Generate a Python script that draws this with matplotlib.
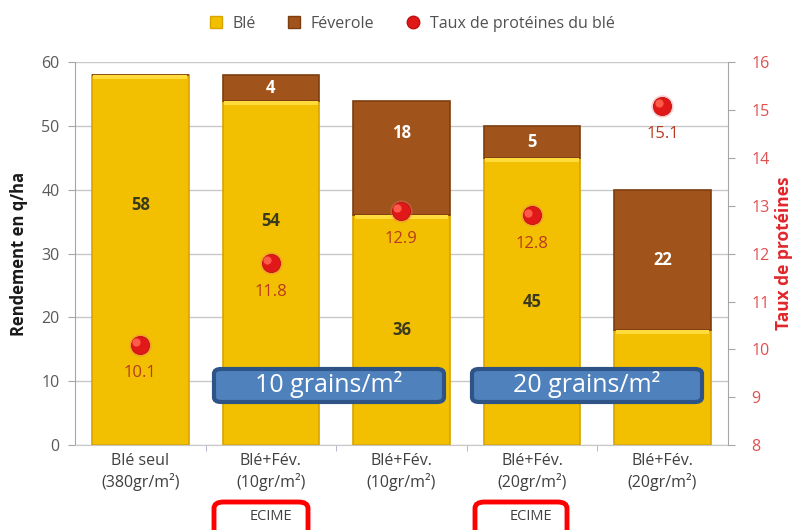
import matplotlib.pyplot as plt
from matplotlib.patches import FancyBboxPatch
from matplotlib.lines import Line2D

categories = ["Blé seul\n(380gr/m²)", "Blé+Fév.\n(10gr/m²)", "Blé+Fév.\n(10gr/m²)",
              "Blé+Fév.\n(20gr/m²)", "Blé+Fév.\n(20gr/m²)"]
ble = [58, 54, 36, 45, 18]
feverole = [0, 4, 18, 5, 22]
proteines = [10.1, 11.8, 12.9, 12.8, 15.1]

plt.rcParams['font.family'] = ['Open Sans', 'DejaVu Sans']

fig = plt.figure(figsize=(7.98, 5.30), dpi=100)
ax = fig.add_axes([0.094, 0.1604, 0.818, 0.7217])
ax2 = ax.twinx()

x = list(range(len(categories)))
w = 0.74
c_ble = "#F2C000"
c_fev = "#A0531A"
ax.bar(x, ble, width=w, color=c_ble, edgecolor="#D8A400", linewidth=1.2, zorder=2)
# light highlight band at the top of each wheat segment
ax.bar(x, [0.6] * len(x), bottom=[b - 0.6 for b in ble], width=w * 0.97, color="#FFDC3C",
       linewidth=0, zorder=3)
ax.bar(x, feverole, bottom=ble, width=w, color=c_fev, edgecolor="#7E3E10", linewidth=1.2, zorder=2)

ax.set_ylim(0, 60)
ax.set_xlim(-0.5, len(categories) - 0.5)
ax.set_yticks(range(0, 61, 10))
ax.grid(axis='y', color="#C8C8C8", linewidth=1.0, zorder=0)
ax.set_axisbelow(True)
ax.set_xticks(x)
ax.set_xticklabels(categories, fontsize=11.5, color="#404040", linespacing=1.25)
ax.set_xticks([i + 0.5 for i in x[:-1]], minor=True)
ax.tick_params(axis='x', which='major', length=0, pad=6)
ax.tick_params(axis='x', which='minor', length=4, color="#B0A8C8")
ax.tick_params(axis='y', labelsize=11.5, colors="#595959", length=5, pad=6)
ax.tick_params(axis='y', color="#A6A6A6")
ax.set_ylabel("Rendement en q/ha", fontsize=12, fontweight='bold', color="#1a1a1a", labelpad=10)
for s in ['top', 'right']:
    ax.spines[s].set_visible(False)
ax.spines['left'].set_color("#A6A6A6")
ax.spines['bottom'].set_color("#C8C8C8")

# label vertical placement (fraction of segment); some labels moved to avoid markers
ble_frac = [0.65, 0.65, 0.5, 0.5, 0.5]
fev_frac = [0.5, 0.5, 0.72, 0.5, 0.5]
for i in x:
    ax.text(i, ble[i] * ble_frac[i], str(ble[i]), ha='center', va='center', fontsize=12,
            fontweight='bold', color="#3A3A1E", zorder=5)
    if feverole[i] > 0:
        ax.text(i, ble[i] + feverole[i] * fev_frac[i], str(feverole[i]), ha='center', va='center',
                fontsize=12, fontweight='bold', color="white", zorder=5)

ax2.set_ylim(8, 16)
ax2.set_yticks(range(8, 17))
ax2.tick_params(axis='y', labelsize=11.5, labelcolor="#E05050", color="#A6A6A6", length=5, pad=12)
for s in ['top', 'left', 'bottom']:
    ax2.spines[s].set_visible(False)
ax2.spines['right'].set_color("#A6A6A6")
ax2.set_ylabel("Taux de protéines", fontsize=12.5, fontweight='bold', color="#E0262B", labelpad=4)
ax2.scatter(x, proteines, s=260, color="#F07070", alpha=0.35, linewidth=0, zorder=5)
ax2.scatter(x, proteines, s=170, color="#E01818", edgecolor="#C01010", linewidth=0.6, zorder=6)
ax2.scatter([i - 0.03 for i in x], [p + 0.06 for p in proteines], s=35, color="#FF5A4A",
            linewidth=0, zorder=7)
for i in x:
    ax2.text(i, proteines[i] - 0.6, f"{proteines[i]}", ha='center', va='center',
             fontsize=12, color="#B83A20", zorder=8)

# legend
handles = [Line2D([0], [0], marker='s', linestyle='', markersize=8, markerfacecolor=c_ble, markeredgecolor="#D8A400"),
           Line2D([0], [0], marker='s', linestyle='', markersize=8, markerfacecolor=c_fev, markeredgecolor="#7E3E10"),
           Line2D([0], [0], marker='o', linestyle='', markersize=9, markerfacecolor="#E01818", markeredgecolor="#C01010")]
fig.legend(handles, ["Blé", "Féverole", "Taux de protéines du blé"], loc='center', bbox_to_anchor=(0.51, 0.955),
           ncol=3, frameon=False, fontsize=11.5, handletextpad=0.05, columnspacing=1.4, labelcolor="#505050")

# blue boxes
W, H = 798, 530
for x0, x1, txt in [(214, 444, "10 grains/m²"), (472, 702, "20 grains/m²")]:
    box = FancyBboxPatch((x0 / W, 1 - 402 / H), (x1 - x0) / W, 33 / H,
                         boxstyle="round,pad=0,rounding_size=0.009", transform=fig.transFigure,
                         facecolor="#4F81BD", edgecolor="#2E5387", linewidth=3, zorder=10)
    fig.patches.append(box)
    fig.text((x0 + x1) / 2 / W, 1 - 385 / H, txt, ha='center', va='center', fontsize=18,
             color="white", zorder=11)

# red boxes + ECIME
for x0, x1 in [(214, 308), (475, 567)]:
    box = FancyBboxPatch((x0 / W, -0.05), (x1 - x0) / W, (0.05 + 1 - 502 / H),
                         boxstyle="round,pad=0,rounding_size=0.012", transform=fig.transFigure,
                         facecolor="none", edgecolor="#FF0000", linewidth=3.5, zorder=10)
    fig.patches.append(box)
    fig.text((x0 + x1) / 2 / W + 0.013, 1 - 516 / H, "ECIME", ha='center', va='center', fontsize=10.5,
             color="#404040")

fig.savefig("out.png", dpi=100)
